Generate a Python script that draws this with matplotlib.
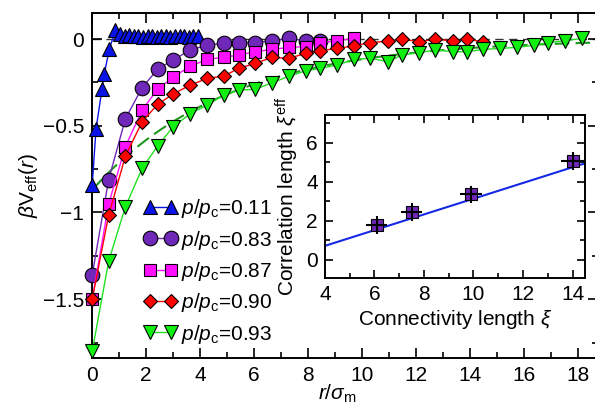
import numpy as np
import matplotlib
matplotlib.use('Agg')
import matplotlib.pyplot as plt

plt.rcParams['font.family'] = ['Liberation Sans', 'DejaVu Sans']
plt.rcParams['mathtext.fontset'] = 'custom'
plt.rcParams['mathtext.rm'] = 'Liberation Sans'
plt.rcParams['mathtext.it'] = 'Liberation Sans:italic'
plt.rcParams['mathtext.sf'] = 'Liberation Sans'
plt.rcParams['axes.unicode_minus'] = True

# p/pc = 0.11
r_011 = [0, 0.14, 0.36, 0.45, 0.63, 0.86, 1.03, 1.2, 1.37, 1.54, 1.71, 1.88, 2.05,
         2.22, 2.39, 2.56, 2.73, 2.9, 3.07, 3.24, 3.41, 3.58, 3.75, 3.92]
v_011 = [-0.84, -0.52, -0.29, -0.2, -0.06, 0.05, 0.03, 0.02, 0.025, 0.015, 0.02, 0.01,
         0.02, 0.015, 0.01, 0.02, 0.015, 0.01, 0.02, 0.015, 0.02, 0.01, 0.02, 0.015]

# common sampling of the other runs
r_grid = [0, 0.61, 1.23, 1.85, 2.42, 3.0, 3.64, 4.27, 4.88, 5.44, 6.04, 6.67, 7.29,
          7.92, 8.45, 9.09, 9.69, 10.31, 10.96, 11.48, 12.1, 12.72, 13.38, 13.88,
          14.5, 15.12, 15.75, 16.39, 16.9, 17.53, 18.17]

v_083 = [-1.36, -0.81, -0.46, -0.28, -0.175, -0.12, -0.063, -0.035, -0.025, -0.02,
         -0.02, -0.01, 0.004, -0.01, -0.01]
v_087 = [-1.5, -0.95, -0.62, -0.41, -0.29, -0.22, -0.156, -0.117, -0.105, -0.092,
         -0.073, -0.06, -0.048, -0.044, -0.021, -0.01, 0.004]
v_090 = [-1.5, -1.015, -0.675, -0.477, -0.377, -0.317, -0.265, -0.227, -0.213, -0.169,
         -0.14, -0.106, -0.111, -0.083, -0.067, -0.054, -0.039, -0.021, -0.012, 0.0,
         -0.015, -0.002, -0.01, -0.002, -0.015]
v_093 = [-1.8, -1.28, -0.967, -0.746, -0.617, -0.506, -0.43, -0.38, -0.323, -0.294,
         -0.29, -0.252, -0.215, -0.183, -0.169, -0.15, -0.117, -0.111, -0.131, -0.092,
         -0.079, -0.063, -0.073, -0.073, -0.06, -0.054, -0.048, -0.035, -0.021, -0.01,
         0.004]

# exponential fit for p/pc = 0.93
fit_amp = -0.87
fit_xi = 4.97

# inset
conn_len = [6.1, 7.5, 9.9, 14.0]
corr_len = [1.8, 2.45, 3.35, 5.05]
conn_err = [0.42, 0.42, 0.45, 0.45]
corr_err = [0.45, 0.45, 0.45, 0.45]
line_x = [4.0, 14.6]
line_y = [0.72, 4.98]

fs = 15

fig = plt.figure(figsize=(5.95, 4.07), dpi=100)
ax = fig.add_axes([0.155, 0.12, 0.85, 0.848])

ax.axhline(0, color='#333333', lw=1, dashes=(6, 4), zorder=1)
rr = np.linspace(0, 18.8, 200)
ax.plot(rr, fit_amp * np.exp(-rr / fit_xi), color='#1f9a1f', lw=1.5, dashes=(7, 3), zorder=2)

series = [
    (r_011, v_011, '^', '#0a14e6', '#0a14e6', 10.5, r'$p/p_{\rm c}$=0.11'),
    (r_grid[:len(v_083)], v_083, 'o', '#7028b8', '#7028b8', 10.5, r'$p/p_{\rm c}$=0.83'),
    (r_grid[:len(v_087)], v_087, 's', '#ff10ff', '#ff10ff', 9.3, r'$p/p_{\rm c}$=0.87'),
    (r_grid[:len(v_090)], v_090, 'D', '#ff0000', '#ff0000', 7.6, r'$p/p_{\rm c}$=0.90'),
    (r_grid[:len(v_093)], v_093, 'v', '#10f010', '#20e020', 10.5, r'$p/p_{\rm c}$=0.93'),
]
for r, v, m, fc, lc, ms, lab in series:
    ax.plot(r, v, color=lc, lw=1, marker=m, ms=ms, mfc=fc, mec='black', mew=0.8,
            label=lab, clip_on=False, zorder=3)

ax.set_xlim(0, 18.75)
ax.set_ylim(-1.84, 0.15)
ax.set_xticks(np.arange(0, 19, 2))
ax.set_xticks(np.arange(0, 19, 1), minor=True)
ax.set_yticks([0, -0.5, -1, -1.5])
ax.set_yticklabels(['0', '\u22120.5', '\u22121', '\u22121.5'])
ax.set_yticks(np.arange(-1.75, 0.1, 0.25), minor=True)
ax.tick_params(which='both', direction='in', top=True, right=True, labelsize=fs, width=1.2)
ax.tick_params(which='major', length=7, pad=6)
ax.tick_params(which='minor', length=4)
for s in ax.spines.values():
    s.set_linewidth(1.4)
ax.set_xlabel(r'$r/\sigma_{\rm m}$', fontsize=fs)
ax.xaxis.set_label_coords(0.485, -0.072)
ax.set_ylabel(r'$\beta\mathrm{V}_{\rm eff}(r)$', fontsize=fs, labelpad=2)

ax.legend(loc='upper left', bbox_to_anchor=(0.085, 0.49), frameon=False, numpoints=2,
          handlelength=1.6, handletextpad=0.2, labelspacing=0.4, fontsize=fs,
          borderaxespad=0)

ins = fig.add_axes([0.546, 0.317, 0.437, 0.40])
ins.plot(line_x, line_y, color='#1428e6', lw=1.5, zorder=1)
ins.plot(conn_len, corr_len, 's', ms=9, mfc='#7028b8', mec='black', mew=0.8, zorder=2)
ins.errorbar(conn_len, corr_len, xerr=conn_err, yerr=corr_err, fmt='none',
             ecolor='black', elinewidth=1.5, capsize=0, zorder=3)
ins.set_xlim(4, 14.5)
ins.set_ylim(-0.92, 7.4)
ins.set_xticks([4, 6, 8, 10, 12, 14])
ins.set_xticks(np.arange(4, 15, 1), minor=True)
ins.set_yticks([0, 2, 4, 6])
ins.set_yticks(np.arange(0, 8, 1), minor=True)
ins.tick_params(which='both', direction='in', top=True, right=True, labelsize=fs, width=1.2)
ins.tick_params(which='major', length=6, pad=5)
ins.tick_params(which='minor', length=3.5)
for s in ins.spines.values():
    s.set_linewidth(1.4)
ins.set_xlabel(r'Connectivity length $\xi$', fontsize=fs, labelpad=3)
ins.set_ylabel(r'Correlation length $\xi^{\rm eff}$', fontsize=fs, labelpad=4)

fig.savefig('out.png', dpi=100)
